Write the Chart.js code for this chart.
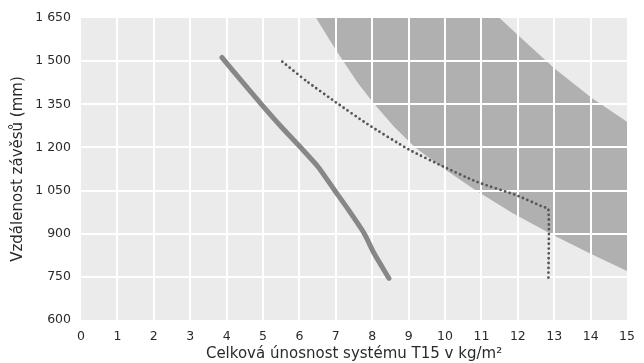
<!DOCTYPE html>
<html>
<head>
<meta charset="utf-8">
<script src="https://cdn.jsdelivr.net/npm/chart.js@4.4.1/dist/chart.umd.min.js"></script>
<style>
  html, body { margin: 0; padding: 0; background: #fff; }
  #wrap { width: 644px; height: 363px; }
</style>
</head>
<body>
<div id="wrap"><canvas id="graf"></canvas></div>
<script>
// osa x: celková únosnost (kg/m2), osa y: vzdálenost závěsů (mm)
const xTicks = [0, 1, 2, 3, 4, 5, 6, 7, 8, 9, 10, 11, 12, 13, 14, 15];
const yTicks = [600, 750, 900, 1050, 1200, 1350, 1500, 1650];
const yTickLabels = ['600', '750', '900', '1 050', '1 200', '1 350', '1 500', '1 650'];

// plná čára
const solidX = [3.87, 4.45, 5.01, 5.5, 6.01, 6.51, 6.96, 7.32, 7.78, 8.05, 8.46];
const solidY = [1513, 1425, 1342, 1272, 1203, 1133, 1052, 988, 901, 832, 745];

// tečkovaná čára
const dotX = [5.53, 6.2, 7.0, 7.87, 9.0, 9.96, 10.86, 11.95, 12.68, 12.84, 12.84];
const dotY = [1498, 1430, 1357, 1281, 1193, 1133, 1081, 1034, 994, 985, 742];

// šedé pásmo - spodní a horní hranice
const bandLowX = [6.46, 6.8, 7.15, 7.6, 8.05, 8.6, 9.18, 10.0, 10.85, 11.85, 12.9, 14.0, 15];
const bandLowY = [1650, 1580, 1510, 1425, 1352, 1272, 1200, 1123, 1050, 972, 900, 830, 770];
const bandHighX = [15, 14.04, 13.0, 12.0, 11.5];
const bandHighY = [1289, 1371, 1475, 1591, 1650];

function toPoints(xs, ys) {
    let out = [];
    for (let i = 0; i < xs.length; i++) {
        out.push({x: xs[i], y: ys[i]});
    }
    return out;
}

const bandPoints = toPoints(bandLowX, bandLowY).concat(toPoints(bandHighX, bandHighY));

const FONT = "'DejaVu Sans', sans-serif";

// pozadí grafu a bílá mřížka nad šedým pásmem
const gridPlugin = {
    id: 'gridPlugin',
    beforeDraw(chart) {
        const a = chart.chartArea;
        const ctx = chart.ctx;
        ctx.save();
        ctx.fillStyle = '#ebebeb';
        ctx.fillRect(a.left, a.top, a.right - a.left, a.bottom - a.top);
        ctx.restore();
    },
    afterDatasetDraw(chart, args) {
        if (args.index !== 0) return;
        const a = chart.chartArea;
        const ctx = chart.ctx;
        const sx = chart.scales.x;
        const sy = chart.scales.y;
        ctx.save();
        ctx.strokeStyle = '#ffffff';
        ctx.lineWidth = 2;
        ctx.beginPath();
        for (let i = 1; i < xTicks.length - 1; i++) {
            const px = Math.round(sx.getPixelForValue(xTicks[i]));
            ctx.moveTo(px, a.top);
            ctx.lineTo(px, a.bottom);
        }
        for (let i = 1; i < yTicks.length - 1; i++) {
            const py = Math.round(sy.getPixelForValue(yTicks[i]));
            ctx.moveTo(a.left, py);
            ctx.lineTo(a.right, py);
        }
        ctx.stroke();
        ctx.restore();
    }
};

const ctx = document.getElementById('graf').getContext('2d');
const chart = new Chart(ctx, {
    type: 'scatter',
    data: {
        datasets: [
            {
                data: bandPoints,
                showLine: true,
                fill: 'shape',
                backgroundColor: '#b0b0b1',
                borderWidth: 0,
                pointRadius: 0,
                order: 10
            },
            {
                data: toPoints(solidX, solidY),
                showLine: true,
                borderColor: '#878787',
                borderWidth: 5,
                borderCapStyle: 'round',
                borderJoinStyle: 'round',
                tension: 0.2,
                pointRadius: 0,
                order: 2
            },
            {
                data: toPoints(dotX, dotY),
                showLine: true,
                borderColor: '#555555',
                borderWidth: 2.8,
                borderDash: [0, 4.8],
                borderCapStyle: 'round',
                tension: 0.2,
                pointRadius: 0,
                order: 1
            }
        ]
    },
    options: {
        responsive: true,
        maintainAspectRatio: false,
        animation: false,
        layout: { padding: { top: 18, right: 12, left: 0, bottom: 0 } },
        plugins: {
            legend: { display: false },
            tooltip: { enabled: false }
        },
        scales: {
            x: {
                type: 'linear',
                min: 0,
                max: 15,
                grid: { display: false, drawTicks: false },
                border: { display: false },
                afterBuildTicks(scale) {
                    scale.ticks = xTicks.map(v => ({value: v}));
                },
                afterFit(scale) { scale.height = 43; },
                ticks: {
                    padding: 9,
                    color: '#2a2a2a',
                    font: { family: FONT, size: 12.5 }
                },
                title: {
                    display: true,
                    text: 'Celková únosnost systému T15 v kg/m²',
                    color: '#2a2a2a',
                    font: { family: FONT, size: 15 },
                    padding: { top: 0, bottom: 0 }
                }
            },
            y: {
                type: 'linear',
                min: 600,
                max: 1650,
                grid: { display: false, drawTicks: false },
                border: { display: false },
                afterBuildTicks(scale) {
                    scale.ticks = yTicks.map(v => ({value: v}));
                },
                afterFit(scale) { scale.width = 81; },
                ticks: {
                    padding: 10,
                    color: '#2a2a2a',
                    font: { family: FONT, size: 12.5 },
                    callback: function (value) {
                        const i = yTicks.indexOf(value);
                        return i >= 0 ? yTickLabels[i] : '';
                    }
                },
                title: {
                    display: true,
                    text: 'Vzdálenost závěsů (mm)',
                    color: '#2a2a2a',
                    font: { family: FONT, size: 15 },
                    padding: { top: 9, bottom: 0 }
                }
            }
        }
    },
    plugins: [gridPlugin]
});
</script>
</body>
</html>
